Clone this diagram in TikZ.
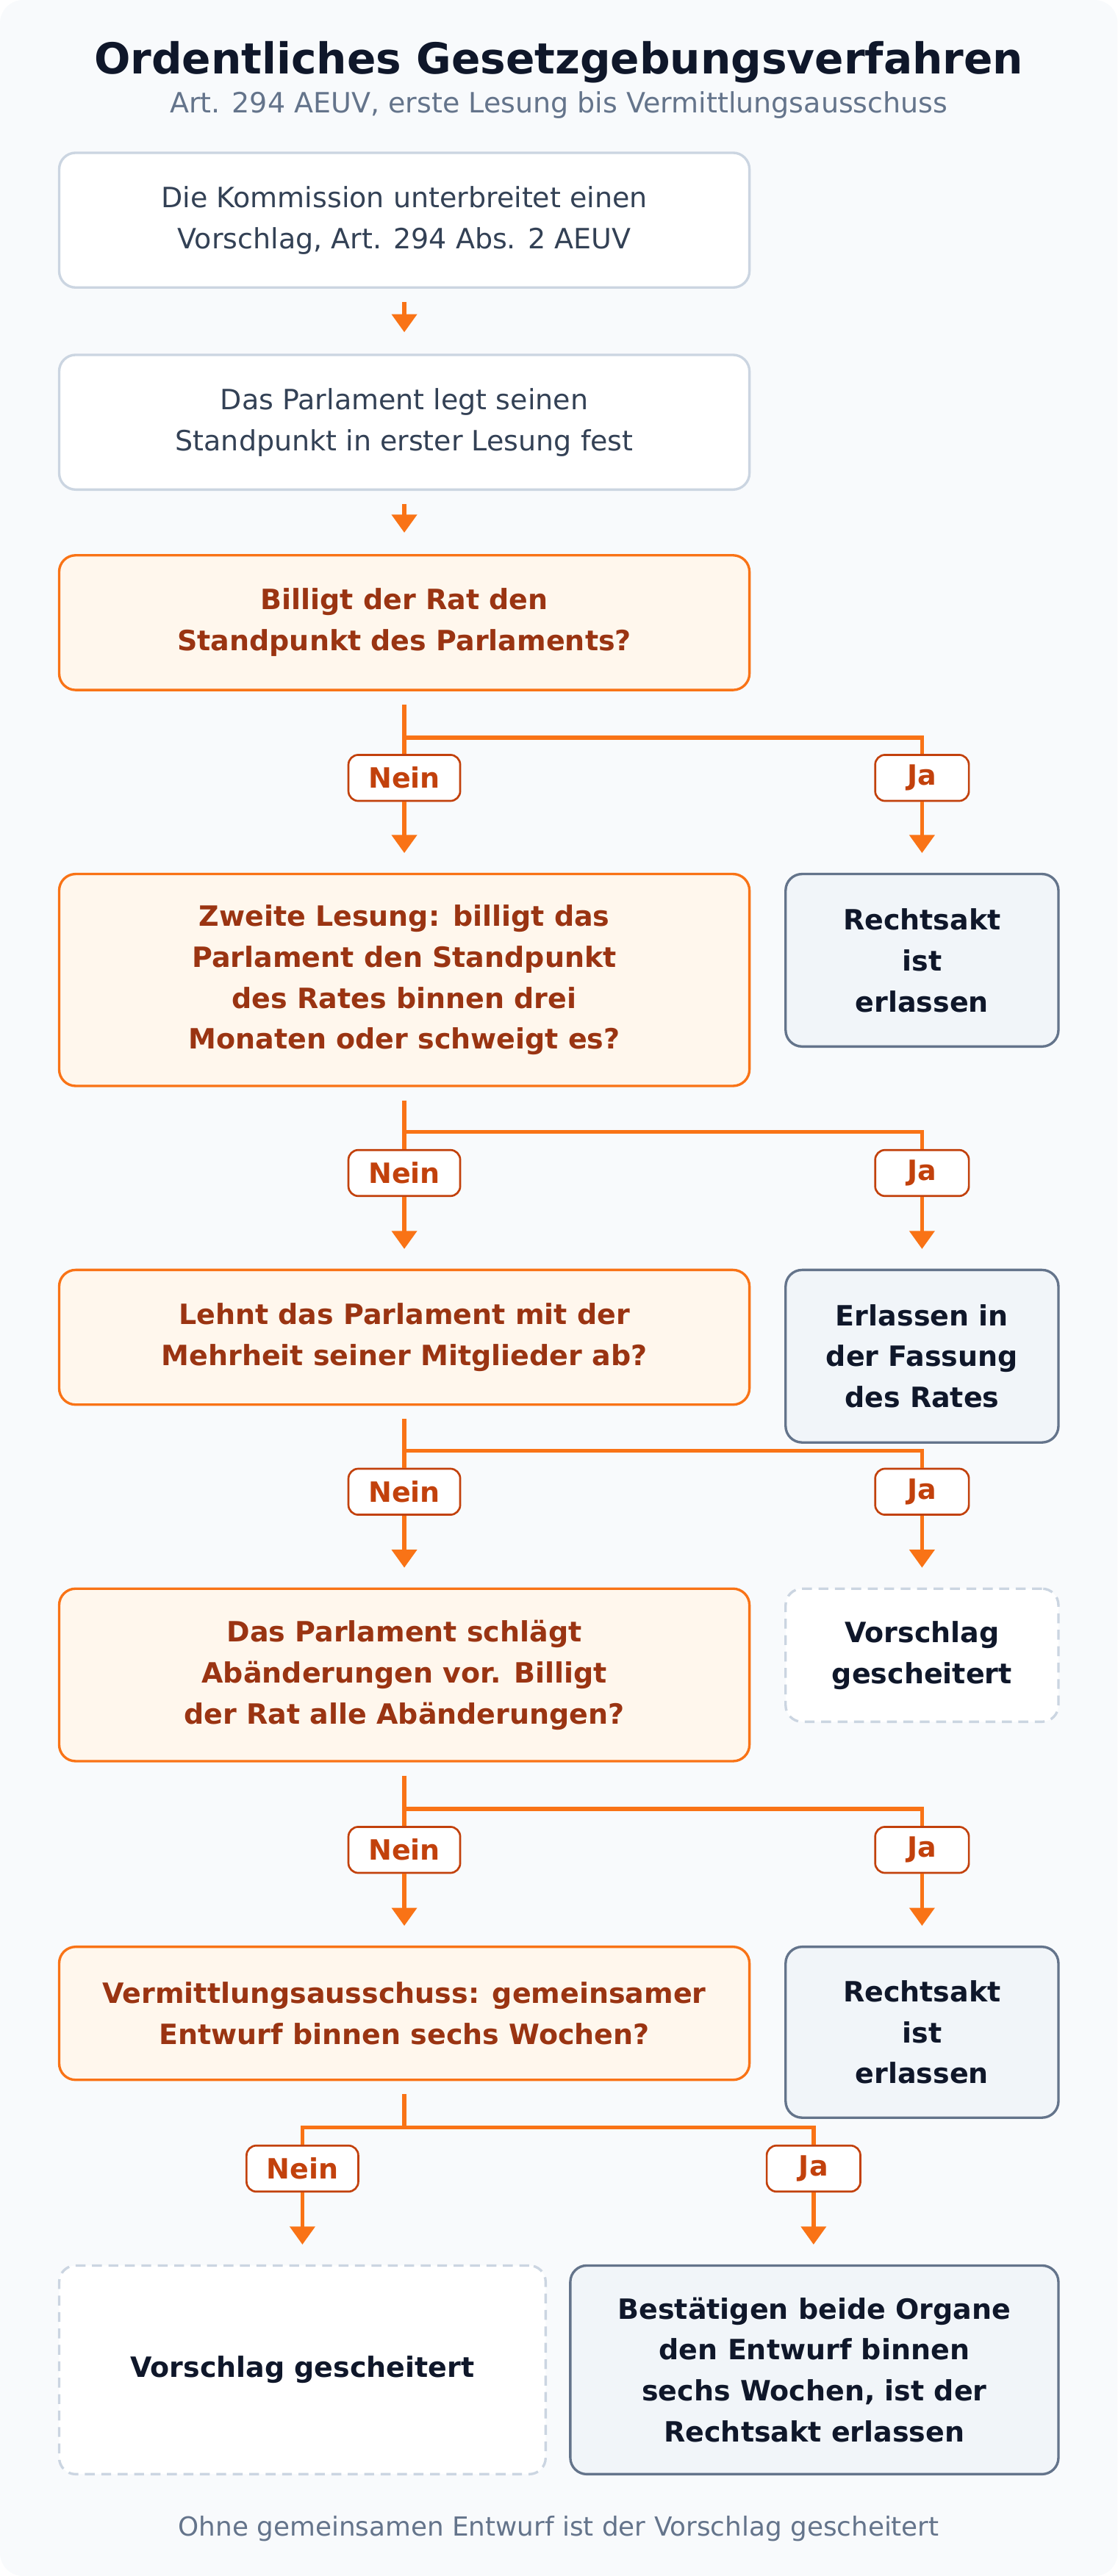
\documentclass[tikz,border=0pt]{standalone}
\usepackage{fontspec}
\setmainfont{DejaVu Sans}
\usetikzlibrary{arrows.meta}
\definecolor{bg}{HTML}{F8FAFC}
\definecolor{gborder}{HTML}{CBD5E1}
\definecolor{gtext}{HTML}{334155}
\definecolor{org}{HTML}{F97316}
\definecolor{orgfill}{HTML}{FFF7ED}
\definecolor{orgtext}{HTML}{9A3412}
\definecolor{lbl}{HTML}{C2410C}
\definecolor{slate}{HTML}{64748B}
\definecolor{slatefill}{HTML}{F1F5F9}
\definecolor{dark}{HTML}{0F172A}
\tikzset{
 base/.style={draw, rounded corners=10pt, line width=1.5pt, align=center, inner sep=0pt, font=\fontsize{17}{25}\selectfont},
 stepbox/.style={base, draw=gborder, fill=white, text=gtext},
 dec/.style={base, draw=org, fill=orgfill, text=orgtext, font=\bfseries\fontsize{17}{25}\selectfont},
 res/.style={base, draw=slate, fill=slatefill, text=dark, font=\bfseries\fontsize{17}{25}\selectfont},
 fail/.style={base, draw=gborder, dash pattern=on 6pt off 4pt, fill=white, text=dark, font=\bfseries\fontsize{17}{25}\selectfont},
 lab/.style={draw=lbl, fill=white, rounded corners=6pt, line width=1.2pt, text=lbl, font=\bfseries\fontsize{17}{20}\selectfont, minimum height=28pt, inner sep=0pt},
 conn/.style={draw=org, line width=2.5pt},
 arr/.style={conn, -{Triangle[length=11pt,width=15pt]}},
}
\newcommand\brn[8]{% dec, jy, xl, xr, ly, lw, targetL, targetR
 \coordinate (#1j) at (246,#2);
 \coordinate (#1r) at (#4,#2);
 \coordinate (#1l) at (#3,#2);
 \node[lab, minimum width=68pt] (#1n) at (#3,#5) {Nein};
 \node[lab, minimum width=#6pt] (#1y) at (#4,#5) {Ja};
 \draw[conn, shorten <=8pt] (#1.south) -- (#1j);
 \draw[conn] (#1l) -- (#1r) -- (#1y.north);
 \draw[conn] (#1j) -- (#1l) -- (#1n.north);
 \draw[arr, shorten >=12pt] (#1n.south) -- (#1n.south |- #7.north);
 \draw[arr, shorten >=12pt] (#1y.south) -- (#1y.south |- #8.north);
}
\begin{document}
\begin{tikzpicture}[x=1pt,y=-1pt]
\useasboundingbox (0,0) rectangle (680,1568);
\fill[bg, rounded corners=14pt] (0,0) rectangle (680,1568);
\node[text=dark, font=\bfseries\fontsize{26}{30}\selectfont] (title) at (340,38) {Ordentliches Gesetzgebungsverfahren};
\node[text=slate, font=\fontsize{17}{20}\selectfont] (sub) at (340,64) {Art. 294 AEUV, erste Lesung bis Vermittlungsausschuss};

\node[stepbox, minimum width=420pt, minimum height=82pt] (b1) at (246,134) {Die Kommission unterbreitet einen\\Vorschlag, Art. 294 Abs. 2 AEUV};
\node[stepbox, minimum width=420pt, minimum height=82pt] (b2) at (246,257) {Das Parlament legt seinen\\Standpunkt in erster Lesung fest};
\node[dec, minimum width=420pt, minimum height=82pt] (d1) at (246,379) {Billigt der Rat den\\Standpunkt des Parlaments?};
\node[dec, minimum width=420pt, minimum height=129pt] (d2) at (246,596.5) {Zweite Lesung: billigt das\\Parlament den Standpunkt\\des Rates binnen drei\\Monaten oder schweigt es?};
\node[res, minimum width=166pt, minimum height=105pt] (r1) at (561,584.5) {Rechtsakt\\ist\\erlassen};
\node[dec, minimum width=420pt, minimum height=82pt] (d3) at (246,814) {Lehnt das Parlament mit der\\Mehrheit seiner Mitglieder ab?};
\node[res, minimum width=166pt, minimum height=105pt] (r2) at (561,825.5) {Erlassen in\\der Fassung\\des Rates};
\node[dec, minimum width=420pt, minimum height=105pt] (d4) at (246,1019.5) {Das Parlament schlägt\\Abänderungen vor. Billigt\\der Rat alle Abänderungen?};
\node[fail, minimum width=166pt, minimum height=81pt] (f1) at (561,1007.5) {Vorschlag\\gescheitert};
\node[dec, minimum width=420pt, minimum height=81pt] (d5) at (246,1225.5) {Vermittlungsausschuss: gemeinsamer\\Entwurf binnen sechs Wochen?};
\node[res, minimum width=166pt, minimum height=104pt] (r3) at (561,1237) {Rechtsakt\\ist\\erlassen};
\node[fail, minimum width=296pt, minimum height=127pt] (f2) at (184,1442.5) {Vorschlag gescheitert};
\node[res, minimum width=297pt, minimum height=127pt] (r4) at (495.5,1442.5) {Bestätigen beide Organe\\den Entwurf binnen\\sechs Wochen, ist der\\Rechtsakt erlassen};
\node[text=slate, font=\fontsize{16}{20}\selectfont] (foot) at (340,1539) {Ohne gemeinsamen Entwurf ist der Vorschlag gescheitert};

\draw[arr, shorten <=8pt, shorten >=13pt] (b1) -- (b2);
\draw[arr, shorten <=8pt, shorten >=13pt] (b2) -- (d1);
\brn{d1}{449}{246}{561}{473.5}{57}{d2}{r1}
\brn{d2}{689}{246}{561}{714}{57}{d3}{r2}
\brn{d3}{883}{246}{561}{908}{57}{d4}{f1}
\brn{d4}{1101}{246}{561}{1126}{57}{d5}{r3}
\brn{d5}{1295}{184}{495}{1320}{57}{f2}{r4}
\end{tikzpicture}
\end{document}
